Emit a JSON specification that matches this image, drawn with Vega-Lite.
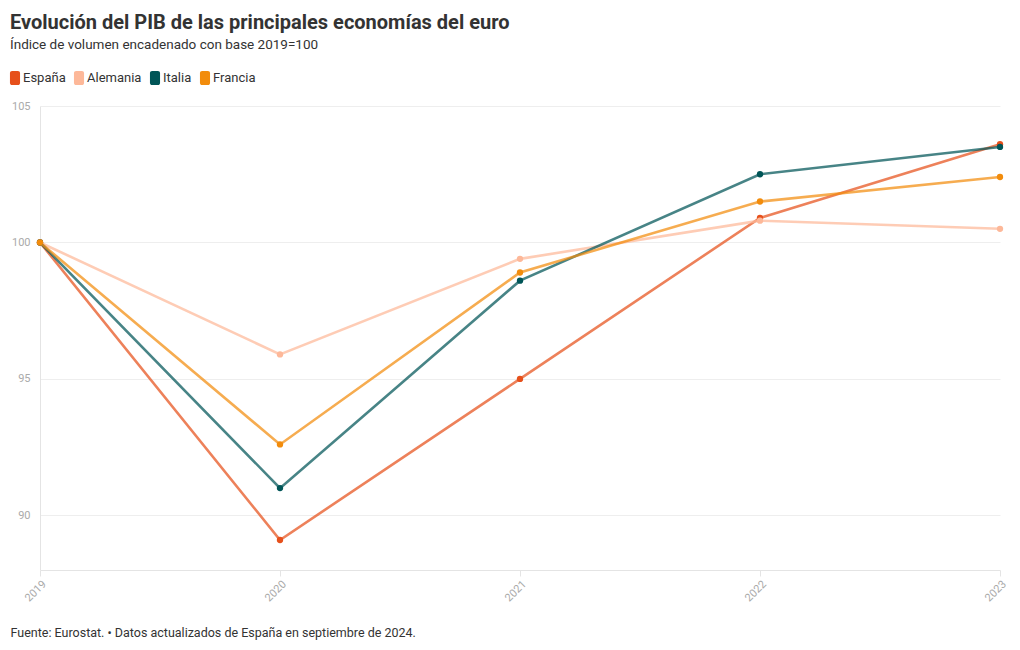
{
  "$schema": "https://vega.github.io/schema/vega-lite/v6.json",
  "width": 960,
  "height": 464,
  "autosize": {"type": "none"},
  "padding": {"left": 40, "top": 106, "right": 20, "bottom": 80},
  "background": "white",
  "config": {
    "font": "Roboto",
    "view": {"stroke": null}
  },
  "title": {
    "text": "Evolución del PIB de las principales economías del euro",
    "subtitle": "Índice de volumen encadenado con base 2019=100",
    "anchor": "start",
    "frame": "group",
    "dx": -30,
    "offset": 20,
    "font": "Roboto",
    "fontSize": 20,
    "fontWeight": "bold",
    "color": "#333333",
    "subtitleFont": "Roboto",
    "subtitleFontSize": 13.5,
    "subtitleColor": "#333333",
    "subtitlePadding": 5
  },
  "data": {
    "values": [
      {"pais": "España", "year": 2019, "valor": 100},
      {"pais": "España", "year": 2020, "valor": 89.1},
      {"pais": "España", "year": 2021, "valor": 95.0},
      {"pais": "España", "year": 2022, "valor": 100.9},
      {"pais": "España", "year": 2023, "valor": 103.6},
      {"pais": "Alemania", "year": 2019, "valor": 100},
      {"pais": "Alemania", "year": 2020, "valor": 95.9},
      {"pais": "Alemania", "year": 2021, "valor": 99.4},
      {"pais": "Alemania", "year": 2022, "valor": 100.8},
      {"pais": "Alemania", "year": 2023, "valor": 100.5},
      {"pais": "Italia", "year": 2019, "valor": 100},
      {"pais": "Italia", "year": 2020, "valor": 91.0},
      {"pais": "Italia", "year": 2021, "valor": 98.6},
      {"pais": "Italia", "year": 2022, "valor": 102.5},
      {"pais": "Italia", "year": 2023, "valor": 103.5},
      {"pais": "Francia", "year": 2019, "valor": 100},
      {"pais": "Francia", "year": 2020, "valor": 92.6},
      {"pais": "Francia", "year": 2021, "valor": 98.9},
      {"pais": "Francia", "year": 2022, "valor": 101.5},
      {"pais": "Francia", "year": 2023, "valor": 102.4}
    ]
  },
  "encoding": {
    "x": {
      "field": "year",
      "type": "quantitative",
      "scale": {"domain": [2019, 2023], "nice": false, "zero": false},
      "axis": {
        "values": [2019, 2020, 2021, 2022, 2023],
        "format": "d",
        "labelAngle": -45,
        "labelColor": "#aaaaaa",
        "labelFontSize": 11,
        "labelFont": "Roboto",
        "grid": false,
        "domainColor": "#e4e4e4",
        "tickColor": "#e4e4e4",
        "tickSize": 6,
        "labelPadding": 2,
        "title": "Fuente: Eurostat. • Datos actualizados de España en septiembre de 2024.",
        "titleAnchor": "start",
        "titleAlign": "left",
        "titleX": -30,
        "titleY": 56,
        "titleFont": "Roboto",
        "titleFontSize": 12.5,
        "titleFontWeight": "normal",
        "titleColor": "#333333"
      }
    },
    "y": {
      "field": "valor",
      "type": "quantitative",
      "scale": {"domain": [88, 105], "nice": false, "zero": false},
      "axis": {
        "values": [90, 95, 100, 105],
        "labelColor": "#aaaaaa",
        "labelFontSize": 11,
        "labelFont": "Roboto",
        "ticks": false,
        "labelPadding": 10,
        "domainColor": "#e4e4e4",
        "gridColor": "#eeeeee",
        "title": null
      }
    },
    "color": {
      "field": "pais",
      "type": "nominal",
      "scale": {
        "domain": ["España", "Alemania", "Italia", "Francia"],
        "range": ["#e6501b", "#fdb899", "#005557", "#f28c0c"]
      },
      "legend": {
        "orient": "none",
        "direction": "horizontal",
        "legendX": -32,
        "legendY": -35,
        "title": null,
        "symbolType": "M-0.42,-1H0.42A0.3,0.3 0 0 1 0.72,-0.7V0.7A0.3,0.3 0 0 1 0.42,1H-0.42A0.3,0.3 0 0 1 -0.72,0.7V-0.7A0.3,0.3 0 0 1 -0.42,-1Z",
        "symbolSize": 196,
        "symbolStrokeWidth": 0,
        "symbolOpacity": 1,
        "labelFont": "Roboto",
        "labelFontSize": 13,
        "labelColor": "#333333",
        "columnPadding": 6,
        "labelOffset": 1
      }
    }
  },
  "layer": [
    {"mark": {"type": "line", "strokeWidth": 2.6, "opacity": 0.72}},
    {"mark": {"type": "point", "filled": true, "size": 40, "opacity": 1}}
  ]
}
